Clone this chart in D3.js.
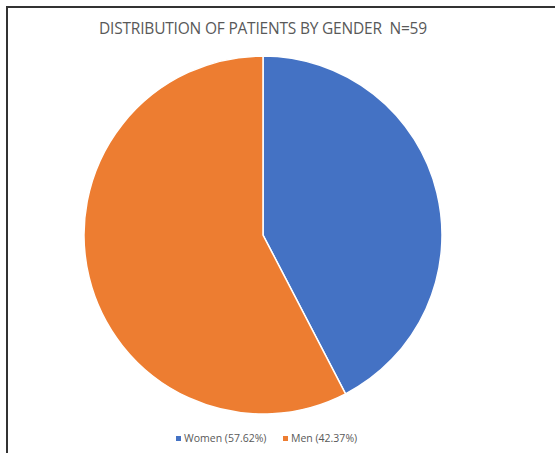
<!DOCTYPE html>
<html>
<head>
<meta charset="utf-8">
<script src="https://cdn.jsdelivr.net/npm/d3@7"></script>
<style>
  body { margin: 0; background: #fff; }
  svg { display: block; }
</style>
</head>
<body>
<script>
// Slice values as drawn (clockwise from 12 o'clock) and legend labels
var categories = ["Women (57.62%)", "Men (42.37%)"];
var values = [42.37, 57.63];
var colors = ["#4472C4", "#ED7D31"];
var title = "DISTRIBUTION OF PATIENTS BY GENDER  N=59";

var width = 555, height = 453;
var cx = 263, cy = 235, radius = 179;

var svg = d3.select("body")
  .append("svg")
  .attr("width", width)
  .attr("height", height);

// frame lines (top and left only are visible)
svg.append("line")
  .attr("x1", 6).attr("y1", 7).attr("x2", width).attr("y2", 7)
  .style("stroke", "#333").style("stroke-width", 2);
svg.append("line")
  .attr("x1", 7).attr("y1", 6).attr("x2", 7).attr("y2", height)
  .style("stroke", "#333").style("stroke-width", 2);

svg.append("text")
  .attr("x", cx)
  .attr("y", 34)
  .attr("text-anchor", "middle")
  .style("font-family", "'Open Sans', sans-serif")
  .style("font-size", "15.5px")
  .style("letter-spacing", "-0.2px")
  .style("fill", "#595959")
  .attr("xml:space", "preserve")
  .text(title);

var pie = d3.pie().sort(null).value(function(d) { return d; });
var arc = d3.arc().innerRadius(0).outerRadius(radius);

var g = svg.append("g")
  .attr("transform", "translate(" + cx + "," + cy + ")");

g.selectAll("path")
  .data(pie(values))
  .enter()
  .append("path")
  .attr("d", arc)
  .style("fill", function(d, i) { return colors[i]; })
  .style("stroke", "#fff")
  .style("stroke-width", 1.5);

// legend
var legendX = [176, 283];
var legend = svg.append("g");
categories.forEach(function(c, i) {
  legend.append("rect")
    .attr("x", legendX[i]).attr("y", 436)
    .attr("width", 5).attr("height", 5)
    .style("fill", colors[i]);
  legend.append("text")
    .attr("x", legendX[i] + 8).attr("y", 442)
    .style("font-family", "'Open Sans', sans-serif")
    .style("font-size", "10.5px")
    .style("fill", "#595959")
    .text(c);
});
</script>
</body>
</html>
